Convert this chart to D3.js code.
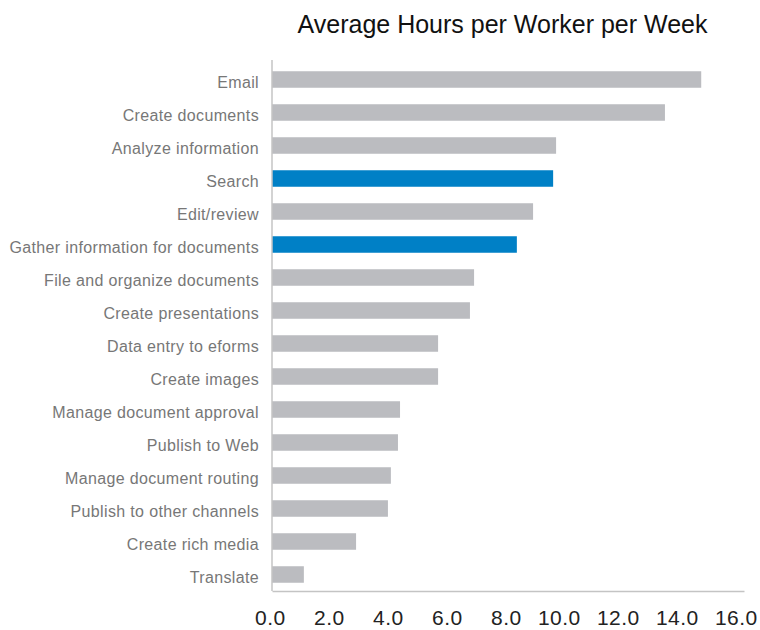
<!DOCTYPE html>
<html><head><meta charset="utf-8">
<script src="https://cdn.jsdelivr.net/npm/d3@7"></script>
<style>body{margin:0;background:#fff}</style>
</head><body>
<svg id="c" width="760" height="630"></svg>
<script>
const categories = ["Email","Create documents","Analyze information","Search","Edit/review","Gather information for documents","File and organize documents","Create presentations","Data entry to eforms","Create images","Manage document approval","Publish to Web","Manage document routing","Publish to other channels","Create rich media","Translate"];
const hours = [14.55,13.32,9.63,9.53,8.85,8.3,6.85,6.71,5.63,5.63,4.34,4.27,4.03,3.93,2.85,1.08];
const highlighted = ["Search","Gather information for documents"];
const xTicks = [0,2,4,6,8,10,12,14,16];
const title = "Average Hours per Worker per Week";

(function(){
const svg = d3.select("#c");
const mLeft = 272, mRight = 744, mTop = 60, mBottom = 591;
const x = d3.scaleLinear().domain([0,16]).range([mLeft,mRight]);
const y = d3.scaleBand().domain(categories).range([63,mBottom]).paddingInner(0.5).paddingOuter(0.25);

svg.append("text").attr("x",502.5).attr("y",33).attr("text-anchor","middle")
  .attr("font-family","Liberation Sans, Arial, sans-serif").attr("font-size",25).attr("fill","#111").text(title);

svg.append("g").selectAll("rect").data(categories).join("rect")
  .attr("x",x(0)).attr("y",d=>y(d)).attr("height",y.bandwidth())
  .attr("width",(d,i)=>x(hours[i])-x(0))
  .attr("fill",d=>highlighted.includes(d)?"#0080c6":"#bbbcc0");

const yAxis = svg.append("g").attr("transform",`translate(${mLeft},0)`).call(d3.axisLeft(y).tickSize(0).tickPadding(13));
yAxis.select(".domain").remove();
yAxis.selectAll("text").attr("dy","0.5em").attr("font-family","Liberation Sans, Arial, sans-serif")
  .attr("font-size",16).attr("letter-spacing",0.35).attr("fill","#777");

svg.append("line").attr("x1",mLeft).attr("x2",mLeft).attr("y1",mTop).attr("y2",mBottom)
  .attr("stroke","#c4c4c4").attr("stroke-width",1.5);

const xAxis = svg.append("g").attr("transform",`translate(0,${mBottom})`)
  .call(d3.axisBottom(x).tickValues(xTicks).tickFormat(d3.format(".1f")).tickSize(0).tickPadding(19));
xAxis.select(".domain").attr("stroke","#c4c4c4").attr("stroke-width",1.5);
xAxis.selectAll("text").attr("text-anchor","end").attr("x",13)
  .attr("font-family","Liberation Sans, Arial, sans-serif").attr("font-size",21).attr("letter-spacing",0.4).attr("fill","#222");
})();
</script>
</body></html>
